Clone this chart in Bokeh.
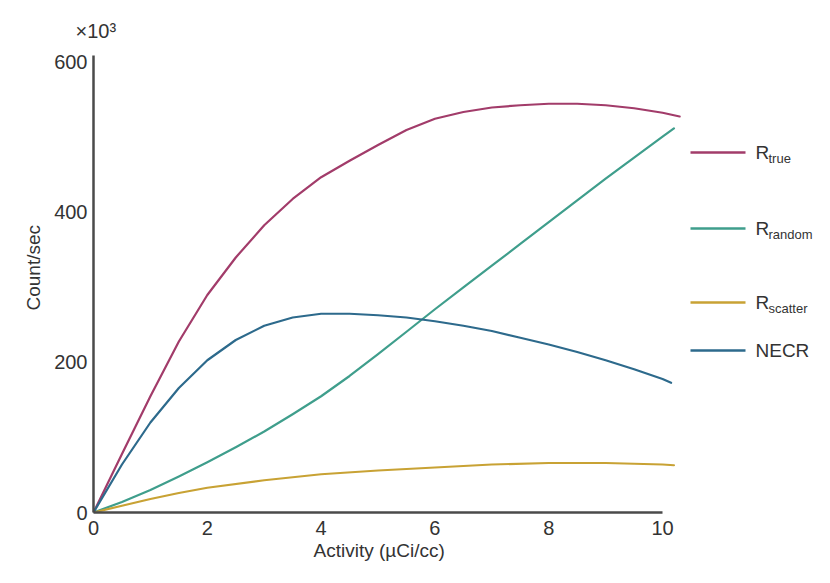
from bokeh.plotting import figure
from bokeh.models import Label, BoxAnnotation, Range1d, FixedTicker, Title
from bokeh.embed import file_html
from bokeh.resources import INLINE

# ---- data ----
x_true = [0, 0.5, 1, 1.5, 2, 2.5, 3, 3.5, 4, 4.5, 5, 5.5, 6, 6.5, 7, 7.5, 8, 8.5, 9, 9.5, 10, 10.3]
r_true = [0, 78, 155, 228, 290, 340, 383, 418, 447, 469, 490, 510, 525, 534, 540, 543, 545, 545, 543, 539, 533, 528]

x_random = [0, 0.5, 1, 1.5, 2, 2.5, 3, 3.5, 4, 4.5, 5, 5.5, 6, 6.5, 7, 7.5, 8, 8.5, 9, 9.5, 10, 10.2]
r_random = [0, 14, 30, 48, 67, 87, 108, 131, 155, 182, 211, 241, 271, 300, 329, 358, 387, 416, 445, 473, 501, 512]

x_scatter = [0, 0.5, 1, 1.5, 2, 3, 4, 5, 6, 7, 8, 9, 10, 10.2]
r_scatter = [0, 9, 18, 26, 33, 43, 51, 56, 60, 64, 66, 66, 64, 63]

x_necr = [0, 0.5, 1, 1.5, 2, 2.5, 3, 3.5, 4, 4.5, 5, 5.5, 6, 6.5, 7, 7.5, 8, 8.5, 9, 9.5, 10, 10.15]
necr = [0, 64, 120, 166, 203, 230, 249, 260, 265, 265, 263, 260, 255, 249, 242, 233, 224, 214, 203, 191, 178, 173]

x_ticks = [0, 2, 4, 6, 8, 10]
y_ticks = [0, 200, 400, 600]

series_names = ["true", "random", "scatter", "NECR"]
colors = ["#a23c6a", "#3f9e8c", "#c8a234", "#2d6a8c"]

FONT = "Liberation Sans"
TXT = "#333333"

p = figure(width=814, height=567, output_backend="svg", toolbar_location=None,
           x_range=Range1d(0, 12.67), y_range=Range1d(0, 609.3),
           min_border_left=93, min_border_right=0, min_border_top=55, min_border_bottom=55)
p.outline_line_color = None
p.grid.visible = False
p.background_fill_color = "white"

for ax in (p.xaxis[0], p.yaxis[0]):
    ax.axis_line_color = "#4a4a4a"
    ax.axis_line_width = 2.5
    ax.major_tick_out = 0
    ax.major_tick_in = 0
    ax.minor_tick_out = 0
    ax.minor_tick_in = 0
    ax.major_label_text_font = FONT
    ax.major_label_text_font_size = "20px"
    ax.major_label_text_color = TXT

p.xaxis[0].bounds = (0, 10)
p.xaxis[0].ticker = FixedTicker(ticks=x_ticks)
p.xaxis[0].major_label_standoff = 8

p.yaxis[0].ticker = FixedTicker(ticks=y_ticks)
p.yaxis[0].major_label_standoff = 6

# multiplier (above), axis titles as side-panel titles so they can sit off-centre
p.title.text = "\u00d710\u00b3"
p.title.text_font = FONT
p.title.text_font_size = "20px"
p.title.text_font_style = "normal"
p.title.text_color = TXT
p.title.align = "left"
p.title.offset = -18
p.title.vertical_align = "bottom"
p.title.standoff = 28

p.add_layout(Title(text="Activity (\u00b5Ci/cc)", text_font=FONT, text_font_size="19px",
                   text_font_style="normal", text_color=TXT, align="left", offset=220,
                   vertical_align="top", standoff=4), "below")
p.add_layout(Title(text="Count/sec", text_font=FONT, text_font_size="19px",
                   text_font_style="normal", text_color=TXT, align="left", offset=202,
                   vertical_align="bottom", standoff=16), "left")

for xs, ys, c in [(x_true, r_true, colors[0]), (x_random, r_random, colors[1]),
                  (x_scatter, r_scatter, colors[2]), (x_necr, necr, colors[3])]:
    p.line(xs, ys, line_color=c, line_width=2.2, line_join="round", line_cap="round")

# custom legend (positions in pixels relative to the plot frame)
FL, FB = 93, 512
legend_py = [152, 228, 302, 350]
line_x0, line_x1, text_x = 690 - FL, 745 - FL, 755 - FL
for name, c, py in zip(series_names, colors, legend_py):
    ly = FB - py
    p.add_layout(BoxAnnotation(left=line_x0, right=line_x1, bottom=ly - 1.2, top=ly + 1.2,
                               left_units="screen", right_units="screen",
                               bottom_units="screen", top_units="screen",
                               fill_color=c, fill_alpha=1.0, line_alpha=0))
    if name == "NECR":
        p.add_layout(Label(x=text_x, y=ly, x_units="screen", y_units="screen", text="NECR",
                           text_font=FONT, text_font_size="19px", text_color=TXT,
                           text_baseline="middle", text_align="left"))
    else:
        p.add_layout(Label(x=text_x, y=ly, x_units="screen", y_units="screen", text="R",
                           text_font=FONT, text_font_size="19px", text_color=TXT,
                           text_baseline="middle", text_align="left"))
        p.add_layout(Label(x=text_x + 13, y=ly - 6, x_units="screen", y_units="screen", text=name,
                           text_font=FONT, text_font_size="13px", text_color=TXT,
                           text_baseline="middle", text_align="left"))

open("out.html", "w").write(file_html(p, INLINE))
